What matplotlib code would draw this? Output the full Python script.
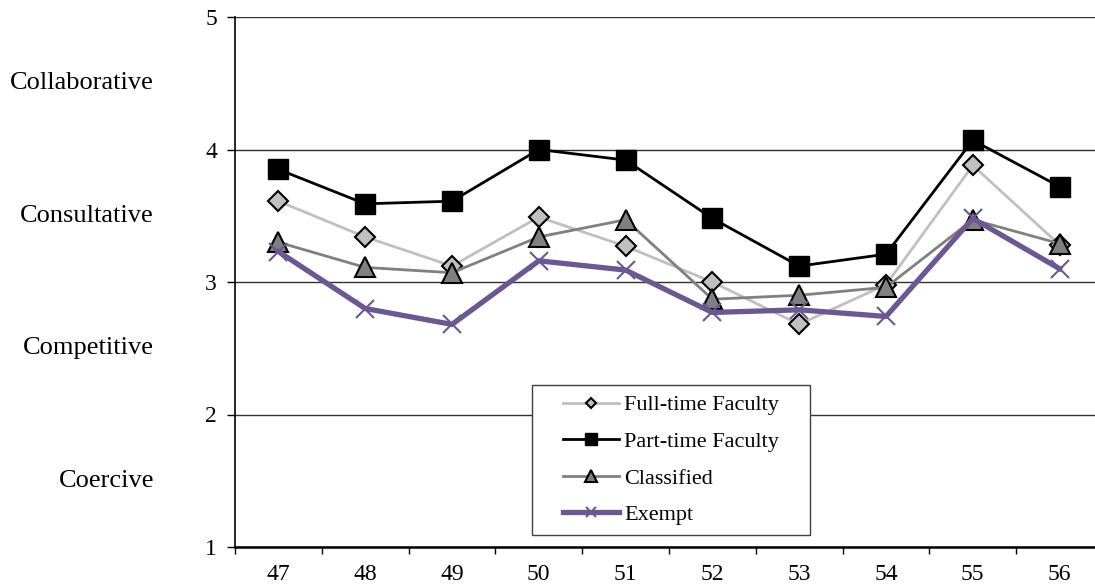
import matplotlib
matplotlib.use("Agg")
import matplotlib.pyplot as plt
from matplotlib.patches import Rectangle

plt.rcParams['font.family'] = ['Liberation Serif', 'DejaVu Serif']

items = ['47', '48', '49', '50', '51', '52', '53', '54', '55', '56']
full_time = [3.61, 3.34, 3.12, 3.49, 3.27, 3.00, 2.68, 2.98, 3.88, 3.28]
part_time = [3.85, 3.59, 3.61, 4.00, 3.92, 3.48, 3.12, 3.21, 4.07, 3.72]
classified = [3.30, 3.11, 3.07, 3.34, 3.47, 2.87, 2.90, 2.96, 3.47, 3.29]
exempt = [3.23, 2.80, 2.68, 3.16, 3.09, 2.77, 2.79, 2.74, 3.48, 3.10]
style_labels = ['Coercive', 'Competitive', 'Consultative', 'Collaborative']
style_levels = [1.5, 2.5, 3.5, 4.5]

W, H = 1095, 585
fig = plt.figure(figsize=(W / 100, H / 100), dpi=100)
ax = fig.add_axes([235 / W, (H - 547) / H, 868 / W, 530 / H])

x = list(range(len(items)))
ax.plot(x, full_time, color='#c0c0c0', lw=2, marker='D', ms=10,
        mfc='#c0c0c0', mec='black', mew=1.5, label='Full-time Faculty', zorder=3)
ax.plot(x, part_time, color='black', lw=2, marker='s', ms=14.5,
        mfc='black', mec='black', mew=1, label='Part-time Faculty', zorder=4)
ax.plot(x, classified, color='#808080', lw=2, marker='^', ms=15,
        mfc='#808080', mec='black', mew=1.5, label='Classified', zorder=5)
ax.plot(x, exempt, color='#6b5891', lw=3.8, marker='x', ms=13,
        mew=1.5, label='Exempt', zorder=6)

ax.set_xlim(-0.5, len(items) - 0.5)
ax.set_ylim(1, 5)
ax.set_yticks([1, 2, 3, 4, 5])
ax.set_yticklabels(['1', '2', '3', '4', '5'], fontsize=17)
ax.set_xticks([i - 0.5 for i in range(len(items) + 1)])
ax.set_xticklabels([])
ax.set_xticks(x, minor=True)
ax.set_xticklabels(items, minor=True, fontsize=17)
ax.tick_params(axis='x', which='minor', length=0, pad=12)
ax.tick_params(axis='x', which='major', length=5, direction='out', width=1)
ax.tick_params(axis='y', length=6, direction='out', width=1, pad=7)

ax.grid(axis='y', color='#303030', lw=1)
ax.set_axisbelow(True)
for side in ('top', 'right'):
    ax.spines[side].set_visible(False)
ax.spines['left'].set_linewidth(1.2)
ax.spines['bottom'].set_linewidth(1.8)

for lvl, lab in zip(style_levels, style_labels):
    ax.text(154 / W, ax.transData.transform((0, lvl))[1] / H, lab,
            transform=fig.transFigure, ha='right', va='center', fontsize=19)

# legend box
bx0, bx1 = (532 - 235) / 868, (810 - 235) / 868
by0, by1 = (547 - 535) / 530, (547 - 385) / 530
ax.add_patch(Rectangle((bx0, by0), bx1 - bx0, by1 - by0, transform=ax.transAxes,
                       facecolor='white', edgecolor='#404040', lw=1, zorder=9))
leg = ax.legend(loc='center', bbox_to_anchor=((bx0 + bx1) / 2, (by0 + by1) / 2),
                fontsize=16, markerscale=0.55, handlelength=2.5,
                handletextpad=0.25, labelspacing=0.72, borderpad=0,
                frameon=False)
leg.set_zorder(10)

fig.savefig('out.png', dpi=100)
